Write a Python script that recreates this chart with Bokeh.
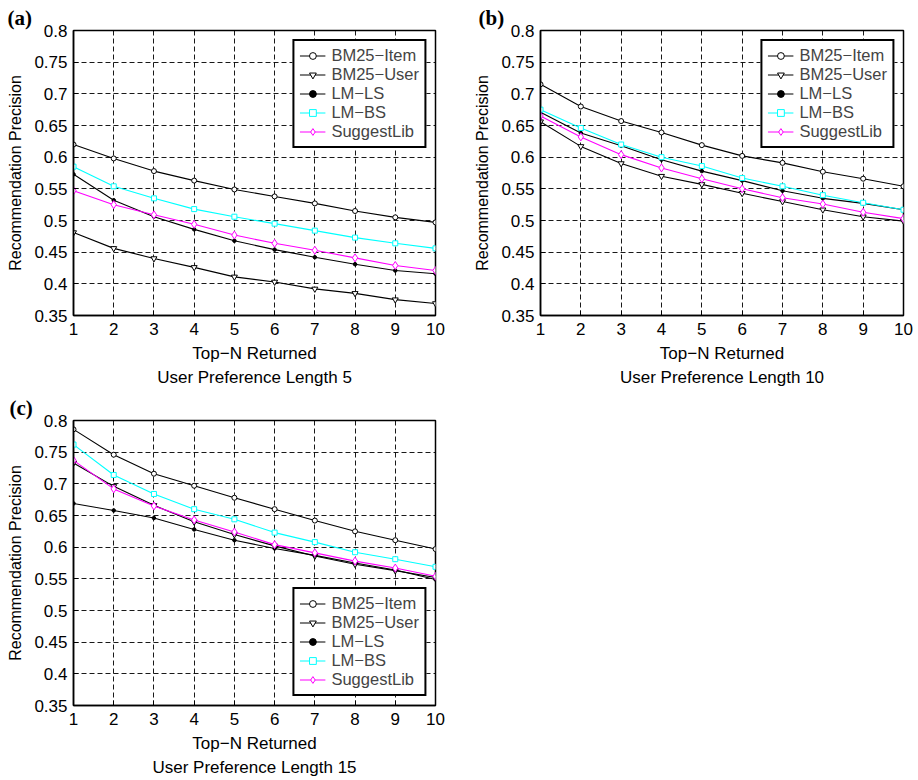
from bokeh.plotting import figure
from bokeh.layouts import column, row
from bokeh.models import (Range1d, FixedTicker, CustomJSTickFormatter, Title, Legend)
from bokeh.embed import file_html
from bokeh.resources import INLINE

top_n = [1, 2, 3, 4, 5, 6, 7, 8, 9, 10]
y_ticks = [0.35, 0.4, 0.45, 0.5, 0.55, 0.6, 0.65, 0.7, 0.75, 0.8]
series_names = ["BM25\u2212Item", "BM25\u2212User", "LM\u2212LS", "LM\u2212BS", "SuggestLib"]

a_bm25_item = [0.620, 0.598, 0.578, 0.563, 0.549, 0.538, 0.527, 0.515, 0.505, 0.497]
a_bm25_user = [0.481, 0.456, 0.440, 0.426, 0.411, 0.403, 0.392, 0.385, 0.375, 0.369]
a_lm_ls = [0.573, 0.532, 0.506, 0.486, 0.468, 0.454, 0.442, 0.431, 0.421, 0.416]
a_lm_bs = [0.585, 0.554, 0.535, 0.518, 0.506, 0.495, 0.484, 0.473, 0.464, 0.456]
a_suggest = [0.547, 0.525, 0.509, 0.494, 0.477, 0.464, 0.453, 0.441, 0.429, 0.421]

b_bm25_item = [0.715, 0.680, 0.657, 0.639, 0.619, 0.602, 0.591, 0.577, 0.566, 0.554]
b_bm25_user = [0.656, 0.617, 0.590, 0.570, 0.557, 0.543, 0.530, 0.517, 0.506, 0.499]
b_lm_ls = [0.671, 0.638, 0.618, 0.596, 0.578, 0.563, 0.547, 0.535, 0.527, 0.517]
b_lm_bs = [0.675, 0.646, 0.620, 0.600, 0.586, 0.567, 0.554, 0.540, 0.528, 0.517]
b_suggest = [0.665, 0.632, 0.604, 0.583, 0.566, 0.550, 0.536, 0.526, 0.513, 0.503]

c_bm25_item = [0.786, 0.746, 0.716, 0.697, 0.678, 0.660, 0.642, 0.625, 0.611, 0.597]
c_bm25_user = [0.733, 0.696, 0.666, 0.640, 0.620, 0.602, 0.586, 0.573, 0.563, 0.552]
c_lm_ls = [0.669, 0.658, 0.646, 0.628, 0.611, 0.598, 0.587, 0.575, 0.564, 0.549]
c_lm_bs = [0.762, 0.714, 0.684, 0.660, 0.644, 0.623, 0.608, 0.592, 0.581, 0.569]
c_suggest = [0.737, 0.692, 0.665, 0.643, 0.624, 0.604, 0.591, 0.578, 0.567, 0.554]

FONT = "Liberation Sans"

styles = [
    dict(color="black", marker="circle", size=5, fill="white"),
    dict(color="black", marker="inverted_triangle", size=6, fill="white"),
    dict(color="black", marker="circle", size=3.5, fill="black"),
    dict(color="#00FFFF", marker="square", size=5, fill="white"),
    dict(color="#FF00FF", marker="diamond", size=8, fill="white"),
]


def make_panel(tag, tag_offset, data, legend_loc, subtitle, left, right, frame_w):
    p = figure(width=left + right + frame_w, height=390,
               x_range=Range1d(1, 10), y_range=Range1d(0.35, 0.8),
               output_backend="svg", toolbar_location=None, tools="",
               min_border_left=left, min_border_right=right,
               min_border_top=30, min_border_bottom=75)
    p.outline_line_color = "black"
    p.outline_line_width = 1.5
    p.outline_line_alpha = 1.0
    p.background_fill_color = "white"
    p.border_fill_color = "white"

    p.title.text = tag
    p.title.align = "left"
    p.title.offset = tag_offset
    p.title.standoff = 2
    p.title.text_font = "Liberation Serif"
    p.title.text_font_style = "bold"
    p.title.text_font_size = "21px"
    p.title.text_color = "black"

    for g in (p.xgrid[0], p.ygrid[0]):
        g.grid_line_color = "black"
        g.grid_line_dash = "5 3"
        g.grid_line_width = 1
        g.grid_line_alpha = 0.9
    p.xgrid[0].ticker = FixedTicker(ticks=top_n)
    p.ygrid[0].ticker = FixedTicker(ticks=y_ticks)

    p.xaxis.ticker = FixedTicker(ticks=top_n)
    p.yaxis.ticker = FixedTicker(ticks=y_ticks)
    p.yaxis.formatter = CustomJSTickFormatter(
        code="var s = tick.toFixed(2); if (s.endsWith('0')) { s = s.slice(0, -1); } return s;")
    for ax in (p.xaxis[0], p.yaxis[0]):
        ax.major_tick_in = 5
        ax.major_tick_out = 0
        ax.minor_tick_line_color = None
        ax.axis_line_color = "black"
        ax.axis_line_width = 1.5
        ax.major_tick_line_color = "black"
        ax.major_label_text_font = FONT
        ax.major_label_text_font_size = "17px"
        ax.major_label_text_color = "black"
        ax.axis_label_text_font = FONT
        ax.axis_label_text_font_style = "normal"
        ax.axis_label_text_color = "black"
    p.xaxis.axis_label = "Top\u2212N Returned"
    p.xaxis.axis_label_text_font_size = "17px"
    p.xaxis.axis_label_standoff = 6
    p.xaxis.major_label_standoff = 7
    p.yaxis.axis_label = "Recommendation Precision"
    p.yaxis.axis_label_text_font_size = "16px"
    p.yaxis.axis_label_standoff = 7
    p.yaxis.major_label_standoff = 6

    items = []
    for name, ys, st in zip(series_names, data, styles):
        r1 = p.line(top_n, ys, line_color=st["color"], line_width=1.1)
        r2 = p.scatter(top_n, ys, marker=st["marker"], size=st["size"],
                       line_color=st["color"], fill_color=st["fill"], line_width=1)
        items.append((name, [r1, r2]))

    legend = Legend(items=items, location=legend_loc)
    legend.margin = 9
    legend.padding = 5
    legend.spacing = 0
    legend.border_line_color = "black"
    legend.border_line_width = 2
    legend.border_line_alpha = 1.0
    legend.background_fill_color = "white"
    legend.background_fill_alpha = 1.0
    legend.label_text_font = FONT
    legend.label_text_font_size = "16.5px"
    legend.label_height = 17
    legend.glyph_height = 17
    legend.glyph_width = 26
    legend.label_standoff = 6
    p.add_layout(legend, "center")

    sub = Title(text=subtitle, align="center", text_font=FONT,
                text_font_size="17px", text_font_style="normal",
                text_color="black", standoff=0)
    p.add_layout(sub, "below")
    return p


pa = make_panel("(a)", -66, [a_bm25_item, a_bm25_user, a_lm_ls, a_lm_bs, a_suggest],
                "top_right", "User Preference Length 5", 73, 25, 362)
pb = make_panel("(b)", -62, [b_bm25_item, b_bm25_user, b_lm_ls, b_lm_bs, b_suggest],
                "top_right", "User Preference Length 10", 80, 15, 363)
pc = make_panel("(c)", -64, [c_bm25_item, c_bm25_user, c_lm_ls, c_lm_bs, c_suggest],
                "bottom_right", "User Preference Length 15", 73, 25, 362)

layout = column(row(pa, pb), row(pc))
open("out.html", "w").write(file_html(layout, INLINE))
